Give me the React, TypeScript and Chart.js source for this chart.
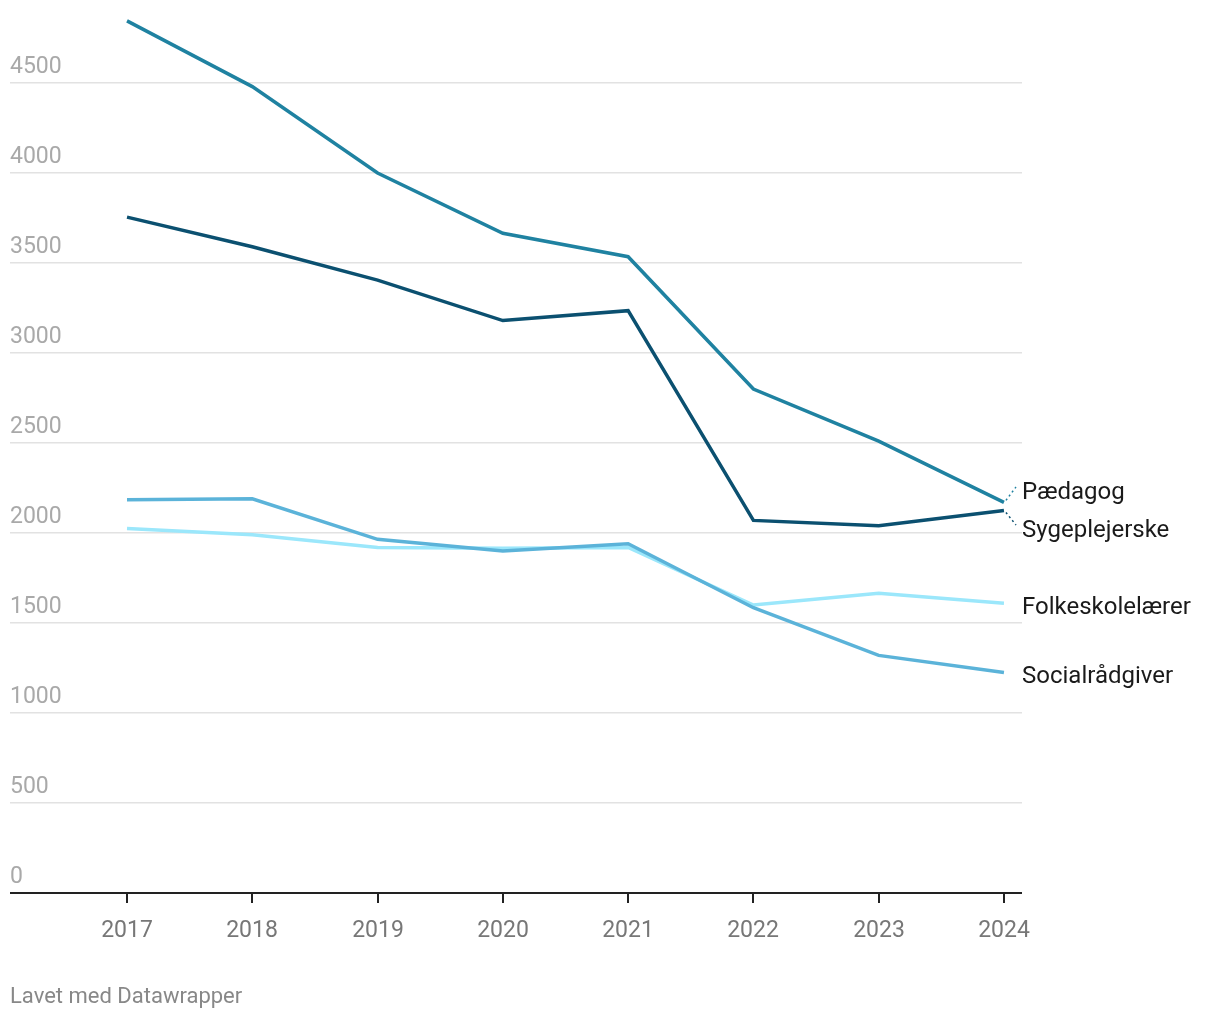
import React, { useEffect, useRef } from "react";
import { Chart, registerables } from "chart.js";

Chart.register(...registerables);

const years = [2017, 2018, 2019, 2020, 2021, 2022, 2023, 2024];
const paedagog = [4845, 4480, 4000, 3665, 3535, 2800, 2510, 2170];
const sygeplejerske = [3755, 3590, 3405, 3180, 3235, 2070, 2040, 2125];
const socialraadgiver = [2185, 2190, 1965, 1900, 1940, 1585, 1320, 1225];
const folkeskolelaerer = [2025, 1990, 1920, 1915, 1920, 1600, 1665, 1610];
const yTicks = [0, 500, 1000, 1500, 2000, 2500, 3000, 3500, 4000, 4500];
const seriesNames = ["Pædagog", "Sygeplejerske", "Socialrådgiver", "Folkeskolelærer"];
const seriesColors = ["#1f82a1", "#0b5070", "#5bb3d9", "#9be7fb"];
const footerText = "Lavet med Datawrapper";

const FONT = "Roboto, 'Noto Sans', sans-serif";

const labelPlugin = {
  id: "dwLabels",
  afterDatasetsDraw(chart: any) {
    const { ctx, chartArea, scales } = chart;
    const x = scales.x;
    const y = scales.y;
    ctx.save();
    // y labels above gridlines
    ctx.font = `23px ${FONT}`;
    ctx.fillStyle = "#a9a9a9";
    ctx.textAlign = "left";
    ctx.textBaseline = "alphabetic";
    yTicks.forEach((v) => {
      ctx.fillText(String(v), chartArea.left, y.getPixelForValue(v) - 10);
    });
    // x axis line
    const base = y.getPixelForValue(0);
    ctx.strokeStyle = "#222";
    ctx.lineWidth = 2;
    ctx.beginPath();
    ctx.moveTo(chartArea.left, base);
    ctx.lineTo(chartArea.right, base);
    ctx.stroke();
    // ticks and labels
    ctx.font = `23px ${FONT}`;
    ctx.fillStyle = "#777";
    ctx.textAlign = "center";
    ctx.textBaseline = "middle";
    years.forEach((yr) => {
      const px = Math.round(x.getPixelForValue(yr));
      ctx.beginPath();
      ctx.moveTo(px, base);
      ctx.lineTo(px, base + 10);
      ctx.stroke();
      ctx.fillText(String(yr), px, base + 38);
    });
    // series labels at right
    const last = years.length - 1;
    const endX = x.getPixelForValue(years[last]);
    const series = [paedagog, sygeplejerske, socialraadgiver, folkeskolelaerer];
    const labelY = [493, 531, 677, 608];
    ctx.font = `24px ${FONT}`;
    ctx.fillStyle = "#1a1a1a";
    ctx.textAlign = "left";
    ctx.textBaseline = "middle";
    const textX = chartArea.right;
    series.forEach((s, i) => {
      const py = y.getPixelForValue(s[last]);
      const ly = labelY[i];
      if (Math.abs(ly - py) > 8) {
        ctx.save();
        ctx.strokeStyle = seriesColors[i];
        ctx.lineWidth = 1.5;
        ctx.setLineDash([2, 3]);
        ctx.beginPath();
        ctx.moveTo(endX + 2, py + (ly < py ? -2 : 2));
        ctx.lineTo(textX - 6, ly - 6);
        ctx.stroke();
        ctx.restore();
      }
      ctx.fillText(seriesNames[i], textX, ly);
    });
    // footer
    ctx.font = `22px ${FONT}`;
    ctx.fillStyle = "#888";
    ctx.textAlign = "left";
    ctx.textBaseline = "middle";
    ctx.fillText(footerText, 10, 997);
    ctx.restore();
  },
};

export default function App() {
  const ref = useRef<HTMLCanvasElement | null>(null);
  useEffect(() => {
    if (!ref.current) return;
    const series = [paedagog, sygeplejerske, socialraadgiver, folkeskolelaerer];
    const chart = new Chart(ref.current, {
      type: "line",
      data: {
        datasets: series.map((s, i) => ({
          label: seriesNames[i],
          data: s.map((v, j) => ({ x: years[j], y: v })),
          borderColor: seriesColors[i],
          backgroundColor: seriesColors[i],
          borderWidth: 3.5,
          pointRadius: 0,
          tension: 0,
          fill: false,
        })),
      },
      options: {
        animation: false,
        responsive: false,
        maintainAspectRatio: false,
        layout: { padding: { left: 10, right: 198, top: 11, bottom: 0 } },
        plugins: { legend: { display: false }, tooltip: { enabled: false } },
        scales: {
          x: {
            type: "linear",
            min: 2016.066,
            max: 2024.144,
            grid: { display: false },
            border: { display: false },
            ticks: { display: false },
            afterFit: (s: any) => {
              s.height = 127;
            },
          },
          y: {
            min: 0,
            max: 4900,
            grid: {
              color: "#e2e2e2",
              lineWidth: 1.5,
              drawTicks: false,
            },
            border: { display: false },
            ticks: { display: false, stepSize: 500 },
            afterBuildTicks: (s: any) => {
              s.ticks = yTicks.map((v) => ({ value: v }));
            },
            afterFit: (s: any) => {
              s.width = 0;
            },
          },
        },
      },
      plugins: [labelPlugin],
    });
    return () => chart.destroy();
  }, []);
  return (
    <div style={{ position: "absolute", left: 0, top: 0, width: 1220, height: 1020, background: "#fff" }}>
      <canvas ref={ref} width={1220} height={1020} style={{ width: 1220, height: 1020 }} />
    </div>
  );
}
